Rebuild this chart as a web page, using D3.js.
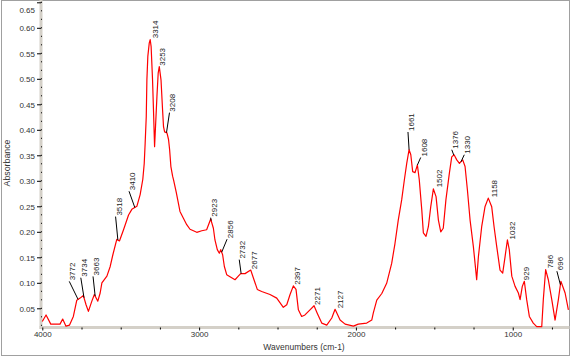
<!DOCTYPE html>
<html><head><meta charset="utf-8">
<script src="https://cdn.jsdelivr.net/npm/d3@7"></script>
<style>
body{margin:0;background:#fff}
svg{display:block;font-family:"Liberation Sans",Arial,sans-serif}
</style></head>
<body>
<svg id="chart" width="571" height="357"></svg>
<script>
// ---- data ----
const wavenumber = [4000,3976,3946,3887,3870,3849,3827,3802,3780,3759,3738,3721,3706,3684,3668,3646,3631,3620,3588,3567,3550,3525,3508,3482,3450,3429,3397,3376,3359,3350,3344,3337,3333,3327,3318,3312,3306,3297,3291,3284,3278,3269,3261,3254,3243,3233,3227,3220,3205,3195,3188,3180,3169,3163,3146,3122,3101,3079,3058,3015,2983,2952,2926,2909,2899,2884,2871,2862,2850,2839,2824,2803,2771,2750,2735,2707,2671,2650,2629,2601,2548,2505,2463,2441,2420,2399,2382,2367,2346,2325,2293,2267,2246,2218,2186,2154,2133,2101,2069,2016,1985,1931,1899,1889,1867,1835,1804,1772,1751,1730,1708,1691,1676,1661,1650,1638,1623,1608,1596,1580,1570,1553,1538,1523,1506,1489,1474,1459,1443,1426,1404,1389,1374,1357,1340,1319,1304,1289,1272,1251,1234,1230,1219,1198,1177,1156,1134,1119,1102,1081,1064,1049,1034,1022,1006,985,964,953,939,926,911,894,869,847,815,805,790,773,751,730,709,693,666,645];
const absorbance = [0.024,0.037,0.019,0.019,0.029,0.015,0.017,0.034,0.066,0.070,0.075,0.057,0.044,0.064,0.077,0.064,0.080,0.100,0.113,0.132,0.155,0.185,0.182,0.204,0.233,0.244,0.250,0.273,0.303,0.334,0.374,0.426,0.498,0.544,0.570,0.577,0.563,0.498,0.439,0.367,0.406,0.465,0.511,0.524,0.498,0.439,0.406,0.396,0.394,0.381,0.361,0.328,0.309,0.302,0.278,0.240,0.227,0.214,0.205,0.199,0.202,0.204,0.225,0.207,0.184,0.165,0.158,0.165,0.155,0.132,0.116,0.112,0.106,0.113,0.118,0.118,0.125,0.106,0.087,0.083,0.077,0.070,0.052,0.057,0.077,0.094,0.087,0.047,0.034,0.037,0.047,0.055,0.040,0.021,0.017,0.031,0.048,0.027,0.019,0.015,0.019,0.021,0.027,0.041,0.066,0.079,0.099,0.138,0.177,0.223,0.263,0.302,0.334,0.361,0.351,0.318,0.316,0.331,0.302,0.243,0.198,0.191,0.210,0.249,0.284,0.269,0.223,0.200,0.207,0.263,0.315,0.347,0.351,0.341,0.334,0.341,0.328,0.282,0.223,0.171,0.119,0.106,0.151,0.210,0.249,0.266,0.249,0.210,0.171,0.125,0.119,0.151,0.184,0.165,0.113,0.093,0.080,0.067,0.093,0.103,0.067,0.034,0.021,0.014,0.014,0.067,0.126,0.106,0.067,0.027,0.067,0.103,0.080,0.047];

const peakLabels = ["3772","3734","3663","3518","3410","3314","3253","3208","2923","2856","2732","2677","2397","2271","2127","1661","1608","1502","1376","1330","1158","1032","929","786","696"];
const peakWavenumber = [3772,3734,3663,3518,3410,3314,3253,3208,2923,2856,2732,2677,2397,2271,2127,1661,1608,1502,1376,1330,1158,1032,929,786,696];

const yTickValues = [0.05,0.10,0.15,0.20,0.25,0.30,0.35,0.40,0.45,0.50,0.55,0.60,0.65];
const xTickValues = [4000,3000,2000,1000];
const xMinorTickValues = [3750,3500,3250,2750,2500,2250,1750,1500,1250,750];
const xTitle = "Wavenumbers (cm-1)";
const yTitle = "Absorbance";

// ---- layout (pixel offsets of each peak label from its point on the curve) ----
const labelShift = [[-8.8,-19],[-3.2,-21],[-2.1,-20.6],[-2.3,-24.5],[-5.8,-17.3],[1.8,-2.4],[0,-2],[3,-21],[-0.5,-4],[5.4,-14],[-1.9,-15],[1,-1.5],[0.7,-1.5],[0.5,-1.5],[0.7,-3],[-1.1,-18.7],[3.3,-8.5],[1.7,-3.4],[-2,-6.3],[3.3,-8],[2.9,-1.8],[1.7,-2.2],[-0.5,-2.3],[1.1,-3.7],[-3.5,-14.5]];

const svg = d3.select("#chart");
const x = d3.scaleLinear().domain([4000, 645]).range([42.3, 568.4]);
const y = d3.scaleLinear().domain([0.05, 0.65]).range([308.3, 2.3]);
const axisY = 327.5, axisX = 41;
const band = "#d4d0c8";

// outer frame
svg.append("rect").attr("x",1.5).attr("y",0.5).attr("width",568).attr("height",355)
  .attr("fill","none").attr("stroke","#a0a0a0").attr("stroke-width",1);

// axis bands
svg.append("rect").attr("x",39.5).attr("y",0).attr("width",3).attr("height",329).attr("fill",band);
svg.append("rect").attr("x",39.5).attr("y",326).attr("width",530).attr("height",3).attr("fill",band);

// y axis
const yAxis = d3.axisLeft(y).tickValues(yTickValues).tickFormat(d3.format(".2f")).tickSize(3).tickPadding(3);
const gy = svg.append("g").attr("transform",`translate(${axisX},0)`).call(yAxis);
gy.select(".domain").remove();
gy.selectAll(".tick line").attr("stroke","#000").attr("x2",-4);
gy.selectAll(".tick text").attr("font-size","8px").attr("fill","#333")
  .attr("font-family",'"Liberation Sans",Arial,sans-serif').attr("x",-6).attr("dy","0.35em");
gy.selectAll(".tick").filter(d => d === 0.65).select("text").attr("y", 7);
// y minor dots
const yMinor = d3.range(0, 39).map(i => 0.05/3*i + 0.05/3);
svg.append("g").selectAll("rect").data(yMinor.filter(v => y(v) > 0 && y(v) < 326)).join("rect")
  .attr("x",41).attr("y",d=>y(d)-0.5).attr("width",1).attr("height",1).attr("fill","#000");

// x axis
const xAxis = d3.axisBottom(x).tickValues(xTickValues).tickFormat(d3.format("d")).tickSize(3).tickPadding(4);
const gx = svg.append("g").attr("transform",`translate(0,${axisY})`).call(xAxis);
gx.select(".domain").remove();
gx.selectAll(".tick line").attr("stroke","#000");
gx.selectAll(".tick text").attr("font-size","8px").attr("fill","#333")
  .attr("font-family",'"Liberation Sans",Arial,sans-serif').attr("y",4).attr("dy","0.71em");
const xMinorAxis = d3.axisBottom(x).tickValues(xMinorTickValues).tickFormat("").tickSize(2);
const gxm = svg.append("g").attr("transform",`translate(0,${axisY})`).call(xMinorAxis);
gxm.select(".domain").remove();
gxm.selectAll(".tick line").attr("stroke","#000");

// titles
svg.append("text").attr("x",304).attr("y",348).attr("text-anchor","middle").attr("dominant-baseline","middle")
  .attr("font-size","8.5px").attr("fill","#333").text(xTitle);
svg.append("text").attr("transform","translate(8,163) rotate(-90)").attr("text-anchor","middle")
  .attr("dominant-baseline","middle").attr("font-size","8.8px").attr("fill","#333").text(yTitle);

// spectrum
const pts = wavenumber.map((w,i)=>({w, a: absorbance[i]}));
svg.append("path").datum(pts)
  .attr("fill","none").attr("stroke","#ff0000").attr("stroke-width",1.2).attr("stroke-linejoin","round")
  .attr("d", d3.line().x(d=>x(d.w)).y(d=>y(d.a)));

// interpolate curve at a wavenumber
function curveAt(w){
  for(let i=0;i<pts.length-1;i++){
    const p=pts[i], q=pts[i+1];
    if(w<=p.w && w>=q.w){ const t=(p.w-w)/(p.w-q.w); return p.a+(q.a-p.a)*t; }
  }
  return pts[pts.length-1].a;
}

// peak labels
const gl = svg.append("g");
peakLabels.forEach((lab,i)=>{
  const w = peakWavenumber[i];
  const cx = x(w), cy = y(curveAt(w));
  const L = cx + labelShift[i][0], B = cy + labelShift[i][1];
  if (Math.hypot(L-cx, B-cy) > 4) {
    gl.append("line").attr("x1",cx).attr("y1",cy).attr("x2",L).attr("y2",B+1)
      .attr("stroke","#000").attr("stroke-width",1);
  }
  gl.append("text").attr("transform",`translate(${L+6},${B}) rotate(-90)`)
    .attr("font-size","8px").attr("fill","#222").text(lab);
});
</script>
</body></html>
